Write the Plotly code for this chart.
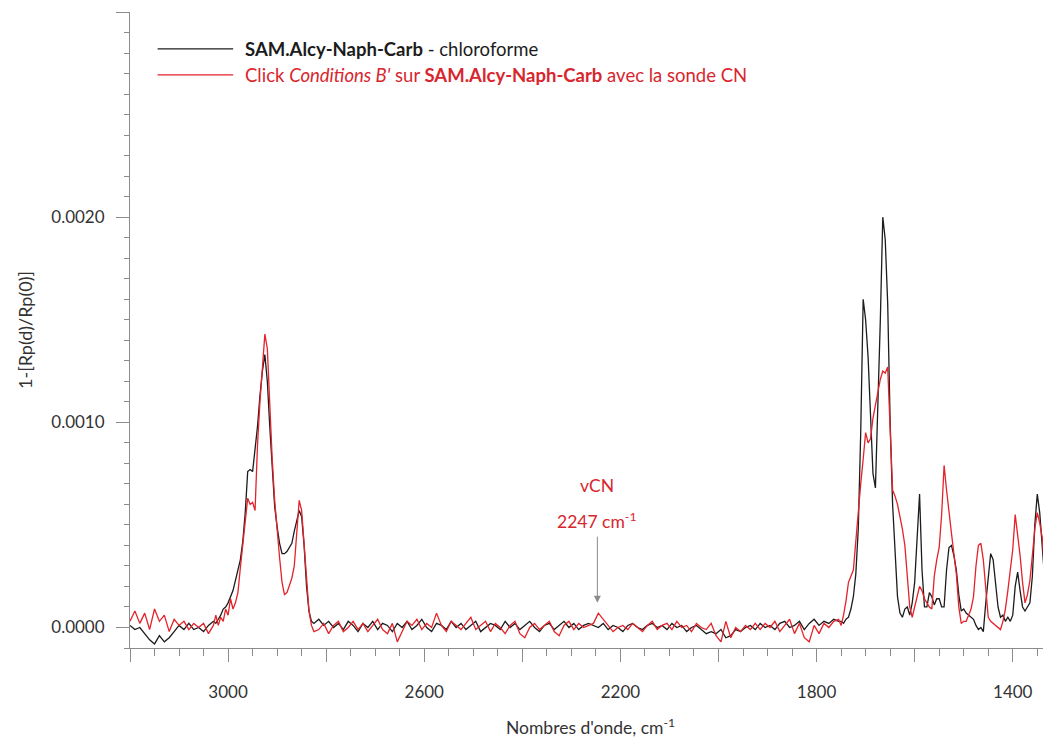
####################################################################################################################
# plot.py
#
# PM-IRRAS spectra - SAM.Alcy-Naph-Carb before / after click with the CN probe
# values (units of 1e-4 for the y values)

####################################################################################################################
# IMPORTS
import plotly.graph_objects as go

####################################################################################################################
# DATA

# wavenumber grid (cm-1), finer steps where the bands are
wn_a = list(range(3200, 3029, -10))   # 3200 .. 3030
wn_b = list(range(3025, 2824, -5))    # 3025 .. 2825  (CH stretch region)
wn_c = list(range(2815, 1754, -10))   # 2815 .. 1755  (baseline + vCN)
wn_d = list(range(1750, 1319, -5))    # 1750 .. 1320  (fingerprint)

# black : SAM.Alcy-Naph-Carb - chloroforme
black_a = [0.1, -0.1, 0.0, -0.3, -0.6, -0.8, -0.4, -0.7, -0.5, -0.2,
           0.1, -0.1, 0.2, -0.1, 0.0, -0.2, 0.1, 0.3]
black_b = [0.2, 0.4, 0.6, 0.9, 1.0, 1.2, 1.5, 1.8, 2.3, 2.8,
           3.3, 4.2, 5.6, 7.6, 7.7, 7.6, 8.6, 9.8, 11.3, 12.5,
           13.3, 12.0, 9.8, 7.5, 5.9, 4.9, 4.1, 3.6, 3.6, 3.7,
           3.9, 4.1, 4.7, 5.2, 5.7, 5.4, 4.0, 2.0, 0.8, 0.3,
           0.2]
black_c = [0.4, 0.1, 0.3, 0.0, 0.2, -0.1, 0.3, 0.1, -0.2, 0.2,
           0.0, 0.3, -0.1, 0.2, 0.1, -0.2, 0.2, 0.0, 0.3, -0.1,
           0.1, 0.4, 0.0, -0.2, 0.2, 0.1, -0.1, 0.3, 0.0, 0.2,
           -0.1, 0.1, 0.3, -0.2, 0.0, 0.2, 0.1, -0.1, 0.3, 0.0,
           0.2, -0.1, 0.1, 0.3, 0.0, -0.2, 0.1, 0.2, -0.1, 0.1,
           0.3, 0.0, 0.2, -0.1, 0.1, 0.2, 0.1, 0.0, 0.2, -0.1,
           0.1, 0.0, -0.2, 0.1, 0.2, 0.0, -0.1, 0.1, 0.2, 0.0,
           0.1, -0.1, 0.2, 0.0, 0.1, -0.2, 0.0, 0.1, -0.1, -0.3,
           -0.2, -0.3, -0.1, -0.5, -0.4, -0.1, -0.2, 0.0, 0.1, -0.1,
           0.2, 0.0, 0.1, -0.1, 0.2, 0.3, 0.0, 0.1, 0.3, -0.1,
           0.2, 0.4, 0.1, 0.3, 0.2, 0.4, 0.3]
black_d = [0.3, 0.2, 0.4, 0.5, 0.9, 1.5, 2.6, 4.8, 9.5, 16.0,
           15.0, 13.2, 10.5, 7.5, 6.8, 10.5, 15.0, 20.0, 18.9, 15.8,
           10.0, 6.0, 3.5, 1.5, 0.7, 0.5, 0.9, 1.0, 0.6, 1.2,
           2.2, 4.5, 6.5, 2.8, 1.0, 1.0, 1.7, 1.5, 1.1, 1.4,
           1.4, 1.0, 1.0, 2.8, 3.9, 4.0, 3.5, 2.8, 1.6, 0.8,
           0.9, 0.7, 0.6, 0.5, 0.4, 0.1, -0.1, 0.0, -0.2, 1.2,
           2.5, 3.6, 3.3, 2.0, 1.0, 0.5, 0.6, 0.3, 0.5, 0.3,
           0.6, 2.0, 2.7, 1.8, 1.0, 0.8, 1.0, 1.2, 2.5, 5.0,
           6.5, 5.6, 4.0, 2.2, 0.8, -0.1, -0.3]

# red : Click Conditions B' sur SAM.Alcy-Naph-Carb avec la sonde CN
red_a = [0.3, 0.8, 0.2, 0.7, -0.1, 0.9, 0.3, 0.6, -0.2, 0.4,
         0.1, 0.3, -0.1, 0.2, 0.0, 0.2, -0.3, 0.1]
red_b = [0.6, 0.1, 0.5, 0.3, 0.9, 0.6, 1.4, 0.9, 1.2, 1.7,
         2.9, 4.0, 5.2, 6.3, 6.0, 6.1, 5.7, 8.9, 11.0, 12.8,
         14.3, 13.6, 10.5, 8.2, 6.2, 4.6, 3.4, 2.2, 1.6, 1.7,
         2.0, 2.4, 3.0, 4.6, 6.2, 5.7, 4.2, 2.3, 0.8, 0.1,
         -0.2]
red_c = [-0.1, 0.2, -0.3, 0.1, 0.3, -0.2, 0.0, 0.3, -0.1, 0.2,
         -0.2, 0.1, 0.4, -0.1, -0.3, 0.2, -0.7, -0.2, 0.3, 0.1,
         0.4, -0.1, 0.2, 0.0, 0.7, 0.1, -0.2, 0.3, 0.1, -0.1,
         0.2, 0.5, -0.1, 0.1, 0.3, -0.2, 0.2, 0.0, -0.3, 0.1,
         0.3, -0.3, -0.5, 0.0, 0.2, -0.1, 0.1, 0.3, -0.2, -0.4,
         0.1, 0.3, -0.1, 0.2, 0.0, 0.1, 0.2, 0.7, 0.4, 0.1,
         -0.2, 0.0, 0.1, -0.1, 0.2, 0.0, -0.2, 0.1, 0.3, -0.1,
         0.1, 0.2, -0.1, 0.3, 0.0, 0.1, -0.2, 0.2, 0.0, -0.1,
         0.2, -0.4, -0.7, 0.3, -0.5, 0.0, -0.2, 0.1, -0.1, 0.2,
         -0.1, 0.2, 0.0, 0.3, -0.2, 0.1, 0.4, -0.3, 0.2, -0.5,
         -0.7, 0.1, -0.3, 0.2, 0.0, 0.3, 0.4]
red_d = [0.1, 0.6, 1.3, 2.2, 2.5, 2.8, 4.2, 5.8, 7.0, 8.2,
         9.5, 9.0, 9.2, 10.2, 10.9, 11.6, 12.1, 12.5, 12.4, 12.7,
         9.6, 6.7, 6.4, 6.0, 5.4, 4.8, 4.0, 2.5, 1.0, 0.5,
         1.0, 1.6, 2.0, 1.8, 1.4, 1.2, 1.0, 0.9, 2.5, 3.3,
         3.9, 5.5, 7.9, 6.7, 5.5, 4.6, 3.6, 2.6, 1.0, 0.2,
         0.3, 0.3, 0.6, 0.9, 1.5, 3.0, 4.0, 4.1, 3.3, 1.8,
         0.5, 0.3, 0.2, 0.1, 0.0, -0.1, 0.3, 0.9, 1.8, 2.8,
         3.8, 5.5, 4.6, 3.5, 2.2, 1.2, 1.6, 2.3, 3.5, 4.8,
         5.6, 5.1, 4.4, 2.8, 1.2, 0.1, -0.2]

# vCN band marker
cn_band = 2247

x_ticks = [3200, 3000, 2800, 2600, 2400, 2200, 2000, 1800, 1600, 1400]
x_labels = ['', '3000', '', '2600', '', '2200', '', '1800', '', '1400']
y_ticks = [0.0, 0.001, 0.002, 0.003]
y_labels = ['0.0000', '0.0010', '0.0020', '']

####################################################################################################################
# SCRIPT

wavenumber = wn_a + wn_b + wn_c + wn_d
black = [v * 1e-4 for v in black_a + black_b + black_c + black_d]
red = [v * 1e-4 for v in red_a + red_b + red_c + red_d]
assert len(wavenumber) == len(black) == len(red), (len(wavenumber), len(black), len(red))

BLACK = '#1c1c1c'
RED = '#e3222a'
GREY = '#8c8c8c'
FONT = 'Lato'

fig = go.Figure()
fig.add_trace(go.Scatter(x=wavenumber, y=black, mode='lines', line=dict(color=BLACK, width=1.3),
                         name='SAM.Alcy-Naph-Carb - chloroforme'))
fig.add_trace(go.Scatter(x=wavenumber, y=red, mode='lines', line=dict(color=RED, width=1.3),
                         name="Click Conditions B' sur SAM.Alcy-Naph-Carb avec la sonde CN"))

axis_common = dict(showgrid=False, zeroline=False, showline=True, linecolor=GREY, linewidth=1,
                   ticks='outside', tickcolor=GREY, tickwidth=1, ticklen=13, automargin=False,
                   tickfont=dict(family=FONT, size=17, color='#333333'))

fig.update_xaxes(range=[3200, 1322], tickmode='array', tickvals=x_ticks, ticktext=x_labels,
                 ticklabelstandoff=16,
                 minor=dict(tickmode='linear', tick0=0, dtick=50, ticks='outside', ticklen=7,
                            tickcolor=GREY, tickwidth=1),
                 title=dict(text="Nombres d'onde, cm<sup>-1</sup>", standoff=21,
                            font=dict(family=FONT, size=17.5, color='#333333')),
                 **axis_common)
fig.update_yaxes(range=[-0.0001, 0.003], tickmode='array', tickvals=y_ticks, ticktext=y_labels,
                 ticklabelstandoff=8,
                 minor=dict(tickmode='linear', tick0=0, dtick=0.0001, ticks='outside', ticklen=5,
                            tickcolor=GREY, tickwidth=1),
                 title=dict(text='1-[Rp(d)/Rp(0)]', standoff=13,
                            font=dict(family=FONT, size=18, color='#333333')),
                 **axis_common)

# legend drawn by hand (long line samples like the original)
legend_rows = [
    (0.942, BLACK, '#1c1c1c', '<b>SAM.Alcy-Naph-Carb</b> - chloroforme'),
    (0.901, RED, '#d8262e', "Click <i>Conditions B'</i> sur <b>SAM.Alcy-Naph-Carb</b> avec la sonde CN"),
]
for ypos, lcol, tcol, txt in legend_rows:
    fig.add_shape(type='line', xref='paper', yref='paper', x0=0.030, x1=0.112, y0=ypos, y1=ypos,
                  line=dict(color=lcol, width=1.3))
    fig.add_annotation(xref='paper', yref='paper', x=0.123, y=ypos, xanchor='left', yanchor='middle',
                       text=txt, showarrow=False, font=dict(family=FONT, size=18.5, color=tcol))

# vCN marker
fig.add_annotation(x=cn_band, y=0.00069, text='vCN', showarrow=False,
                   font=dict(family=FONT, size=17.5, color='#d8262e'))
fig.add_annotation(x=cn_band, y=0.00052, text='2247 cm<sup>-1</sup>', showarrow=False,
                   font=dict(family=FONT, size=17.5, color='#d8262e'))
fig.add_annotation(x=cn_band, y=0.00012, ax=cn_band, ay=0.00045, axref='x', ayref='y', text='',
                   showarrow=True, arrowhead=2, arrowsize=1.4, arrowwidth=1, arrowcolor=GREY)

# page body adds an 8px offset, so the figure is 8px smaller than the window
fig.update_layout(width=1043, height=730, margin=dict(l=122, r=0, t=4, b=90),
                  plot_bgcolor='white', paper_bgcolor='white', showlegend=False)

fig.write_html("out.html")
